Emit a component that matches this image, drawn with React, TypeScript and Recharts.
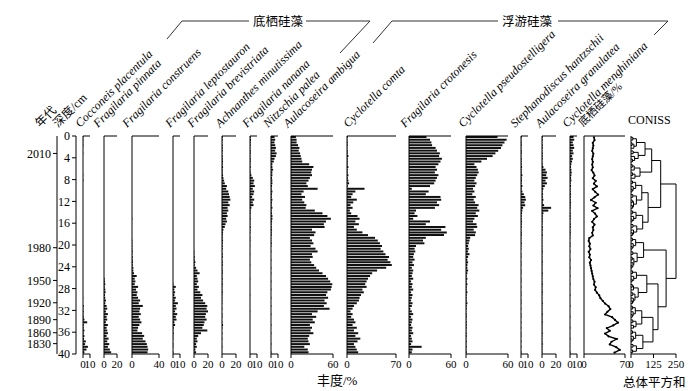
import React from "react";
import {
  BarChart,
  Bar,
  LineChart,
  Line,
  ScatterChart,
  Scatter,
  XAxis,
  YAxis,
  ReferenceLine,
} from "recharts";

const FONT = '"Liberation Serif", "Times New Roman", serif';
const CJK = '"Liberation Serif", "Noto Sans CJK SC", serif';

// sample mid-depths (cm), 0.5 cm slices
const depths = [
  0.25, 0.75, 1.25, 1.75, 2.25, 2.75, 3.25, 3.75, 4.25, 4.75,
  5.25, 5.75, 6.25, 6.75, 7.25, 7.75, 8.25, 8.75, 9.25, 9.75,
  10.25, 10.75, 11.25, 11.75, 12.25, 12.75, 13.25, 13.75, 14.25, 14.75,
  15.25, 15.75, 16.25, 16.75, 17.25, 17.75, 18.25, 18.75, 19.25, 19.75,
  20.25, 20.75, 21.25, 21.75, 22.25, 22.75, 23.25, 23.75, 24.25, 24.75,
  25.25, 25.75, 26.25, 26.75, 27.25, 27.75, 28.25, 28.75, 29.25, 29.75,
  30.25, 30.75, 31.25, 31.75, 32.25, 32.75, 33.25, 33.75, 34.25, 34.75,
  35.25, 35.75, 36.25, 36.75, 37.25, 37.75, 38.25, 38.75, 39.25, 39.75,
];

const depthTicks = [0, 4, 8, 12, 16, 20, 24, 28, 32, 36, 40];
const ageYears = ["2010", "1980", "1950", "1920", "1890", "1860", "1830"];
const ageDepths = [3.2, 20.5, 26.5, 30.6, 33.7, 36.1, 38.1];
const zoneDepths = [5.1, 18.5, 24.6, 31.2];

// relative abundance (%)
const cocconeisPlacentula = [
  0.5, 0.5, 0.3, 0.5, 0, 0, 0.3, 0, 0, 0,
  0, 0, 0, 0, 0.3, 0, 0.5, 0, 0, 0,
  0, 0, 0, 0, 0, 0, 0, 0, 0, 0,
  0, 0, 0, 0, 0, 0, 0, 0, 0, 0,
  0, 0, 0, 0, 0, 0, 0, 0, 0, 0,
  0, 0, 0, 0, 0, 0, 0, 0, 0, 0.3,
  0, 0, 1, 0.5, 1, 0.5, 1, 2, 6, 1,
  1, 2, 1, 2, 1.5, 4, 3, 7, 5, 2,
];
const fragilariaPinnata = [
  0, 0, 0, 0, 0, 0, 0, 0, 0, 0,
  0, 0, 0, 0, 0, 0, 0, 0, 0, 0,
  0, 0, 0, 0, 0, 0, 0, 0, 0, 0,
  0, 0, 0, 0, 0, 0, 0, 0, 0, 0,
  0, 0, 0, 0, 0, 0, 0, 0, 0, 0,
  0, 0, 1, 1.5, 2, 1, 2, 2.5, 1.5, 2,
  3, 2, 4, 5, 3, 6, 4, 5, 3, 6,
  4, 5, 6, 4, 7, 5, 8, 6, 9, 11,
];
const fragilariaConstruens = [
  0, 0, 0, 0, 0, 0, 0, 0, 0, 0,
  0, 0, 0, 0, 0, 0, 0, 0, 0, 0,
  0, 0, 0, 0, 0, 0, 0, 0, 0, 0,
  0.5, 0, 0, 0, 0, 0, 0, 0, 0.5, 0.5,
  0.5, 0.5, 1, 0.5, 1, 1, 1.5, 1, 2, 2,
  3, 7, 4, 5, 4, 9, 6, 8, 7, 9,
  12, 10, 16, 12, 11, 13, 10, 12, 14, 11,
  9, 8, 15, 18, 16, 20, 22, 23, 24, 23,
];
const fragilariaLeptostauron = [
  0, 0, 0, 0, 0, 0, 0, 0, 0, 0,
  0, 0, 0, 0, 0, 0, 0, 0, 0, 0,
  0, 0, 0, 0, 0, 0, 0, 0, 0, 0,
  0, 0, 0, 0, 0, 0, 0, 0, 0, 0,
  0, 0, 0, 0, 0, 0, 0, 0, 0, 0,
  0, 0, 0, 0, 0.5, 4, 2, 3, 2, 4,
  3, 7, 4, 5, 3, 6, 4, 5, 2, 3,
  1, 0.5, 1, 0.5, 0.5, 0, 0.5, 0.5, 0, 0.5,
];
const fragilariaBrevistriata = [
  0, 0, 0, 0, 0, 0, 0, 0, 0, 0,
  0, 0, 0, 0, 0, 0, 0, 0, 0, 0,
  0, 0, 0, 0, 0, 0, 0, 0, 0, 0,
  0, 0, 0, 0, 0, 0, 0, 0, 0, 0,
  0, 0, 0.5, 0.5, 1, 1, 2, 1, 3, 5,
  8, 4, 5, 6, 4, 7, 5, 9, 12, 10,
  13, 16, 19, 18, 20, 17, 16, 18, 15, 14,
  12, 19, 10, 6, 4, 5, 3, 4, 2, 3,
];
const achnanthesMinutissima = [
  1, 1, 0.5, 1, 1, 1, 0.5, 1, 1, 1.5,
  1, 1.5, 1, 1, 1.5, 2, 3, 4, 7, 6,
  9, 10, 11, 12, 9, 11, 8, 9, 7, 8,
  6, 7, 5, 4, 2, 1.5, 1, 1, 1.5, 1,
  1, 1, 0.5, 1, 1, 0.5, 1, 1, 0.5, 1,
  1, 0.5, 1, 0.5, 1, 0.5, 0.5, 1, 0.5, 0.5,
  0.5, 0.5, 0, 0.5, 0, 0.5, 0.5, 0, 0.5, 1.5,
  0.5, 0, 0.5, 0, 0.5, 0, 0, 0.5, 0, 0,
];
const fragilariaNanana = [
  1, 1.5, 1, 1, 0.5, 1, 1, 0.5, 1, 1,
  0.5, 1, 0.5, 1, 2, 4, 6, 5, 7, 4,
  6, 5, 3, 6, 4, 5, 2, 1, 1, 0.5,
  1, 0.5, 0.5, 1, 0.5, 0.5, 0, 0.5, 0.5, 0,
  0.3, 0, 0, 0.3, 0, 0, 0, 0.3, 0, 0,
  0, 0, 0.3, 0, 0, 0, 0, 0, 0.3, 0,
  0, 0, 0, 0, 0.3, 0, 0, 0, 0, 0,
  0, 0, 0, 0, 0, 0, 0, 0, 0, 0,
];
const nitzschiaPalea = [
  5, 6, 5, 6, 7, 6, 8, 7, 5, 4,
  2, 2, 3, 2, 2, 1.5, 2, 2, 1.5, 1,
  2, 1.5, 1, 2, 1.5, 1, 2, 1, 1.5, 2,
  2, 1.5, 1, 1, 1.5, 1, 1, 0.5, 0.5, 1,
  0.5, 0, 0.5, 0, 0, 0.5, 0, 0, 0.5, 0,
  0.5, 0, 0, 0.5, 0, 0, 0.5, 0, 0, 0.5,
  0, 0, 0.5, 0, 0, 0.5, 0, 0, 0, 0.5,
  0, 0, 0.5, 0, 0, 0, 0.5, 0, 0, 0.5,
];
const aulacoseiraAmbigua = [
  7, 8, 8, 10, 12, 11, 13, 14, 15, 16,
  26, 32, 30, 29, 30, 27, 25, 22, 24, 38,
  18, 15, 20, 16, 19, 22, 21, 34, 45, 52,
  57, 50, 47, 48, 30, 35, 33, 27, 30, 32,
  28, 35, 38, 30, 31, 27, 29, 33, 36, 40,
  45, 50, 53, 56, 59, 58, 57, 52, 50, 53,
  48, 51, 47, 55, 38, 30, 36, 31, 34, 27,
  30, 28, 32, 26, 24, 25, 27, 19, 24, 25,
];
const cyclotellaComta = [
  1, 0.5, 1, 1, 0.5, 1, 1, 2, 1, 1,
  1, 2, 1, 1, 2, 1, 2, 3, 1, 25,
  12, 8, 6, 14, 9, 5, 8, 4, 6, 15,
  18, 12, 17, 10, 14, 22, 30, 40, 44, 47,
  50, 48, 52, 55, 60, 58, 62, 64, 56, 43,
  36, 33, 30, 28, 26, 28, 22, 24, 20, 18,
  17, 14, 10, 8, 5, 8, 6, 10, 12, 8,
  14, 10, 16, 12, 19, 15, 10, 12, 14, 16,
];
const fragilariaCrotonesis = [
  25, 30, 32, 33, 38, 40, 44, 43, 47, 45,
  42, 38, 40, 37, 42, 40, 38, 36, 30, 4,
  28, 24, 45, 46, 40, 43, 37, 10, 8, 12,
  6, 30, 24, 52, 46, 54, 50, 24, 20, 22,
  10, 8, 9, 7, 6, 8, 5, 7, 4, 6,
  5, 4, 6, 3, 5, 4, 6, 3, 5, 4,
  3, 5, 4, 2, 4, 6, 3, 5, 4, 3,
  5, 4, 6, 3, 4, 5, 3, 18, 5, 4,
];
const cyclotellaPseudostelligera = [
  45, 58, 55, 52, 50, 46, 42, 38, 30, 22,
  12, 15, 17, 18, 16, 14, 12, 15, 13, 10,
  12, 9, 14, 11, 13, 18, 16, 19, 14, 17,
  12, 10, 15, 16, 11, 14, 13, 6, 5, 4,
  3, 4, 3, 5, 3, 2, 3, 2, 2, 3,
  2, 1, 2, 1, 2, 1, 1, 2, 1, 1,
  1, 2, 1, 1, 0.5, 1, 1, 0.5, 1, 1,
  1, 0.5, 1, 1, 0.5, 1, 0.5, 1, 0.5, 1,
];
const stephanodiscusHantzschii = [
  1, 0.5, 1, 1, 0.5, 1, 1, 0.5, 1, 1,
  1, 1.5, 1, 1, 2, 1, 1.5, 1, 2, 1,
  2, 4, 6, 7, 5, 6, 3, 2, 1.5, 1,
  1, 1.5, 1, 1, 0.5, 1, 1, 0.5, 0.5, 1,
  0.5, 0.5, 0, 0.5, 0.5, 0, 0.5, 0.5, 0, 0.5,
  0.5, 0, 0.5, 0.5, 0, 0.5, 0, 0.5, 0.5, 0,
  0.5, 0.5, 0, 0.5, 0, 0.5, 0.5, 0, 0.5, 0,
  0.5, 0, 0.5, 0.5, 0, 0.5, 0, 0.5, 0, 0.5,
];
const aulacoseiraGranulatea = [
  1, 1, 0.5, 1, 1, 0.5, 1, 1, 1, 0.5,
  1, 2, 5, 7, 6, 8, 5, 7, 4, 2,
  1, 1.5, 1, 2, 1, 3, 13, 9, 2, 1,
  1, 1, 0.5, 1, 1, 0.5, 1, 0.5, 0.5, 0.5,
  0.5, 0.5, 1, 0.5, 0.5, 0.5, 1, 0.5, 0.5, 0.5,
  1, 0.5, 0.5, 0.5, 1, 0.5, 0.5, 1, 0.5, 0.5,
  0.5, 1, 0.5, 0.5, 0.5, 1, 0.5, 0.5, 1, 0.5,
  0.5, 0.5, 1, 0.5, 0.5, 0.5, 1, 0.5, 0.5, 0.5,
];
const cyclotellaMenghiniana = [
  5, 6, 4, 5, 6, 4, 5, 3, 4, 3,
  2, 1.5, 2, 2.5, 2, 1.5, 2, 1, 1.5, 1,
  1, 1.5, 1, 1, 1.5, 1, 1, 0.5, 1, 1,
  1, 0.5, 1, 1, 0.5, 1, 0.5, 0.5, 0, 0.5,
  0.5, 0, 0.5, 0, 0, 0.5, 0, 0, 0.5, 0,
  0, 0.5, 0, 0, 0.5, 0, 0, 0, 0.5, 0,
  0, 0, 0.5, 0, 0, 0, 0.5, 0, 0, 0,
  0.5, 0, 0, 0, 0.5, 0, 0, 0, 0, 0.5,
];
// benthic diatoms total (%)
const benthicPercent = [
  17, 18, 15, 16, 15, 14, 16, 15, 14, 15,
  14, 15, 13, 16, 18, 15, 20, 17, 22, 15,
  19, 24, 18, 12, 20, 16, 23, 14, 19, 22,
  17, 14, 18, 15, 16, 14, 15, 9, 8, 10,
  9, 11, 8, 10, 9, 12, 10, 11, 12, 13,
  14, 15, 16, 18, 17, 20, 19, 22, 26, 28,
  32, 36, 42, 45, 40, 36, 48, 53, 58, 50,
  39, 44, 36, 42, 56, 47, 44, 55, 61, 52,
];

// CONISS tree: [total sum of squares, left, right], leaves = sample index
const conissZone1 = [78, [30, [10, 0, 1], [16, [6, 2, 3], 4]], [40, [12, 5, 6], [20, 7, [8, 8, 9]]]];
const conissZone2a = [50, [18, [7, 10, 11], 12], [22, [9, 13, 14], 15]];
const conissZone2b = [60, [26, [8, 16, 17], [12, 18, [6, 19, 20]]], [30, [10, 21, 22], [14, [7, 23, 24], [9, 25, 26]]]];
const conissZone2c = [65, [28, [9, 27, 28], [15, 29, [6, 30, 31]]], [32, [11, 32, 33], [14, 34, [8, 35, 36]]]];
const conissZone3 = [70, [26, [8, 37, 38], [12, 39, [6, 40, 41]]], [34, [10, 42, 43], [16, [7, 44, 45], [11, 46, [5, 47, 48]]]]];
const conissZone4 = [88, [30, [9, 49, 50], [15, 51, [6, 52, 53]]], [40, [14, [7, 54, 55], 56], [22, [10, 57, 58], [13, 59, [8, 60, 61]]]]];
const conissZone5 = [122, [60, [24, [9, 62, 63], [12, 64, [7, 65, 66]]], [28, [10, 67, 68], [14, 69, 70]]], [66, [26, [8, 71, 72], [13, 73, [6, 74, 75]]], [30, [11, 76, 77], [9, 78, 79]]]];
const conissTree = [
  250,
  [165, [115, conissZone1, conissZone2a], [95, conissZone2b, conissZone2c]],
  [195, conissZone3, [150, conissZone4, conissZone5]],
];

const H = 391;
const TOP = 136;
const BOTTOM = 354;
const PAD = 14;
const INK = "#111";

const panels = [
  { name: "Cocconeis placentula", values: cocconeisPlacentula, max: 10, x0: 83, w: 7, lx: 80 },
  { name: "Fragilaria pinnata", values: fragilariaPinnata, max: 20, x0: 104, w: 13, lx: 98 },
  { name: "Fragilaria construens", values: fragilariaConstruens, max: 40, x0: 132, w: 27, lx: 127 },
  { name: "Fragilaria leptostauron", values: fragilariaLeptostauron, max: 10, x0: 173, w: 7, lx: 170 },
  { name: "Fragilaria brevistriata", values: fragilariaBrevistriata, max: 20, x0: 194, w: 14, lx: 192 },
  { name: "Achnanthes minutissima", values: achnanthesMinutissima, max: 20, x0: 222, w: 14, lx: 220 },
  { name: "Fragilaria nanana", values: fragilariaNanana, max: 10, x0: 250, w: 7, lx: 247 },
  { name: "Nitzschia palea", values: nitzschiaPalea, max: 10, x0: 271, w: 7, lx: 268 },
  { name: "Aulacoseira ambigua", values: aulacoseiraAmbigua, max: 60, x0: 291, w: 42, lx: 288 },
  { name: "Cyclotella comta", values: cyclotellaComta, max: 70, x0: 347, w: 49, lx: 348 },
  { name: "Fragilaria crotonesis", values: fragilariaCrotonesis, max: 60, x0: 409, w: 42, lx: 405 },
  { name: "Cyclotella pseudostelligera", values: cyclotellaPseudostelligera, max: 60, x0: 466, w: 42, lx: 463 },
  { name: "Stephanodiscus hantzschii", values: stephanodiscusHantzschii, max: 10, x0: 521, w: 7, lx: 515 },
  { name: "Aulacoseira granulatea", values: aulacoseiraGranulatea, max: 20, x0: 542, w: 14, lx: 540 },
  { name: "Cyclotella menghiniana", values: cyclotellaMenghiniana, max: 10, x0: 570, w: 7, lx: 567 },
];

const tickStyle = { fill: "#000", fontSize: 11, fontFamily: FONT };
const axisTick = { fill: "#000", fontSize: 12, fontFamily: FONT };

function topTicks(max: number) {
  const t: number[] = [];
  for (let v = 0; v <= max; v += 10) t.push(v);
  return t;
}

function TaxonPanel({ values, max, x0, w }: any) {
  const data = depths.map((d, i) => ({ depth: d, v: values[i] }));
  return (
    <div style={{ position: "absolute", left: x0 - PAD, top: 0 }}>
      <BarChart
        width={w + PAD * 2}
        height={H}
        layout="vertical"
        data={data}
        margin={{ top: TOP - 4, bottom: H - BOTTOM - 20, left: PAD, right: PAD }}
      >
        <XAxis xAxisId="top" orientation="top" type="number" domain={[0, max]} ticks={topTicks(max)}
          interval={0} height={4} tickSize={3} tickFormatter={() => ""} stroke="#000" />
        <XAxis xAxisId="bot" type="number" domain={[0, max]} ticks={[0, max]} interval={0}
          height={20} tickSize={4} stroke="#000" tick={tickStyle} />
        <YAxis type="category" dataKey="depth" hide />
        <Bar xAxisId="bot" dataKey="v" fill={INK} barSize={2} isAnimationActive={false} />
        <ReferenceLine xAxisId="bot" x={0} stroke="#000" />
      </BarChart>
    </div>
  );
}

function BenthicPanel() {
  const data = depths.map((d, i) => ({ depth: d, v: benthicPercent[i] }));
  const x0 = 584;
  const w = 41;
  return (
    <div style={{ position: "absolute", left: x0 - PAD, top: 0 }}>
      <LineChart
        width={w + PAD * 2}
        height={H}
        layout="vertical"
        data={data}
        margin={{ top: TOP - 4, bottom: H - BOTTOM - 20, left: PAD, right: PAD }}
      >
        <XAxis xAxisId="top" orientation="top" type="number" domain={[0, 70]} ticks={topTicks(70)}
          interval={0} height={4} tickSize={3} tickFormatter={() => ""} stroke="#000" />
        <XAxis xAxisId="bot" type="number" domain={[0, 70]} ticks={[0, 70]} interval={0}
          height={20} tickSize={4} stroke="#000" tick={tickStyle} />
        <YAxis type="category" dataKey="depth" hide padding={{ top: 1.36, bottom: 1.36 }} />
        <ReferenceLine xAxisId="bot" x={0} stroke="#000" />
        <Line xAxisId="bot" dataKey="v" stroke="#000" strokeWidth={1.4}
          dot={{ r: 1.1, fill: "#000", stroke: "#000", strokeWidth: 0 }} isAnimationActive={false} />
      </LineChart>
    </div>
  );
}

function layoutTree(node: any): { y: number; h: number; segs: any[] } {
  if (typeof node === "number") return { y: depths[node], h: 0, segs: [] };
  const [h, a, b] = node;
  const l = layoutTree(a);
  const r = layoutTree(b);
  const seg = [
    { x: l.h, y: l.y },
    { x: h, y: l.y },
    { x: h, y: r.y },
    { x: r.h, y: r.y },
  ];
  return { y: (l.y + r.y) / 2, h, segs: [...l.segs, ...r.segs, seg] };
}

function Coniss() {
  const { segs } = layoutTree(conissTree);
  const x0 = 631;
  const w = 45;
  return (
    <div style={{ position: "absolute", left: x0 - 8, top: 0 }}>
      <ScatterChart width={w + 8 + 16} height={H} margin={{ top: TOP, bottom: H - BOTTOM - 20, left: 8, right: 16 }}>
        <XAxis type="number" dataKey="x" domain={[0, 250]} ticks={[0, 125, 250]} interval={0}
          height={20} tickSize={4} stroke="#000" tick={tickStyle} />
        <YAxis type="number" dataKey="y" domain={[0, 40]} reversed hide />
        <ReferenceLine x={0} stroke="#000" />
        {segs.map((s, i) => (
          <Scatter key={i} data={s} line={{ stroke: "#000", strokeWidth: 1 }} lineType="joint"
            shape={() => <g />} isAnimationActive={false} />
        ))}
      </ScatterChart>
    </div>
  );
}

function ageLabel(v: number) {
  const i = ageDepths.findIndex((d) => Math.abs(d - v) < 0.01);
  return i >= 0 ? ageYears[i] : "";
}

// one chart per vertical axis: depth scale next to the panels, age scale outside it
function VerticalAxis({ ticks, width, axisX, formatter }: any) {
  const pts = ticks.map((d: number) => ({ x: 0, y: d }));
  return (
    <div style={{ position: "absolute", left: 0, top: 0 }}>
      <ScatterChart width={axisX + 10} height={H} margin={{ top: TOP, bottom: H - BOTTOM, left: axisX - width, right: 0 }}>
        <XAxis type="number" dataKey="x" domain={[0, 1]} hide />
        <YAxis type="number" dataKey="y" domain={[0, 40]} ticks={ticks} interval={0}
          reversed width={width} tickSize={4} stroke="#000" tick={axisTick}
          tickFormatter={formatter} />
        <Scatter data={pts} shape={() => <g />} isAnimationActive={false} />
      </ScatterChart>
    </div>
  );
}

function ZoneLines() {
  return (
    <div style={{ position: "absolute", left: 0, top: 0, pointerEvents: "none" }}>
      <ScatterChart width={640} height={H} margin={{ top: TOP, bottom: H - BOTTOM, left: 82, right: 10 }}>
        <XAxis type="number" dataKey="x" domain={[0, 1]} hide />
        <YAxis type="number" dataKey="y" domain={[0, 40]} reversed hide />
        {zoneDepths.map((d) => (
          <ReferenceLine key={d} y={d} stroke="#444" strokeWidth={1} />
        ))}
      </ScatterChart>
    </div>
  );
}

function Labels() {
  return (
    <svg width={699} height={H} style={{ position: "absolute", left: 0, top: 0, pointerEvents: "none" }}>
      <g fontFamily={CJK} fontSize={12} fill="#000">
        <text transform="translate(40,128) rotate(-45)">年代</text>
        <text transform="translate(58,128) rotate(-45)">深度/cm</text>
      </g>
      <g fontFamily={FONT} fontStyle="italic" fontSize={12} fill="#000">
        {panels.map((p) => (
          <text key={p.name} transform={`translate(${p.lx},128) rotate(-45)`}>{p.name}</text>
        ))}
      </g>
      <text transform="translate(583,127) rotate(-45)" fontFamily={CJK} fontSize={11}>底栖硅藻/%</text>
      <text x={628} y={124} fontFamily={FONT} fontSize={12}>CONISS</text>
      <g stroke="#333" strokeWidth={1} fill="none">
        <polyline points="167,39 182,21 249,21" />
        <polyline points="306,21 370,21 340,53" />
        <polyline points="373,43 392,21 498,21" />
        <polyline points="558,21 668,21 654,35" />
      </g>
      <g fontFamily={CJK} fontSize={12.5} fill="#000">
        <text x={253} y={26}>底栖硅藻</text>
        <text x={502} y={26}>浮游硅藻</text>
        <text x={317} y={385} fontSize={13}>丰度/%</text>
        <text x={623} y={387}>总体平方和</text>
      </g>
    </svg>
  );
}

export default function App() {
  return (
    <div style={{ position: "absolute", left: 0, top: 0, width: 699, height: H, background: "#fff", overflow: "hidden" }}>
      <VerticalAxis ticks={ageDepths} width={45} axisX={57} formatter={ageLabel} />
      <VerticalAxis ticks={depthTicks} width={19} axisX={76} />
      {panels.map((p) => (
        <TaxonPanel key={p.name} {...p} />
      ))}
      <BenthicPanel />
      <Coniss />
      <ZoneLines />
      <Labels />
    </div>
  );
}
